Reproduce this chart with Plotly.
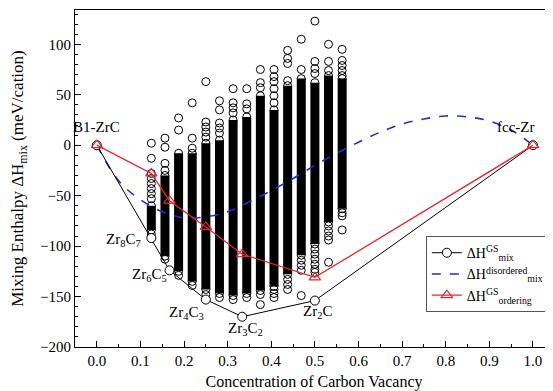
import plotly.graph_objects as go

# ---------------- data ----------------
col_x = [0.125, 0.15625, 0.1875, 0.21875, 0.25, 0.28125, 0.3125, 0.34375,
         0.375, 0.40625, 0.4375, 0.46875, 0.5, 0.53125, 0.5625]
dense_top = [-60, -30, -8, -8, 2, 5, 25, 28, 49, 35, 59, 66, 62, 69, 66]
dense_bot = [-84, -110, -125, -135, -143, -147, -149, -147, -144, -140, -128, -109, -98, -76, -63]
upper_pts = [
    [2, -13, -28, -33, -38, -43, -48, -53],
    [7, -2, -18, -25],
    [27, 15],
    [42, 7, -3],
    [63, 23, 18, 13, 8],
    [44, 35, 22, 17, 12],
    [56, 42, 37, 32],
    [56, 41, 36],
    [75, 62, 57],
    [75, 68, 63, 56, 49, 42],
    [94, 86, 81, 64],
    [105, 75],
    [123, 83, 76, 71],
    [100, 83, 74],
    [95, 84, 79, 74, 69],
]
lower_pts = [
    [-88, -92],
    [-113],
    [-129],
    [-139],
    [-148],
    [-151],
    [-153],
    [-151],
    [-148, -158],
    [-143, -147, -151],
    [-133, -138, -143],
    [-114, -119, -124, -149],
    [-103, -108, -113, -118, -123, -126],
    [-80, -85, -90, -94, -116],
    [-67, -70, -84],
]

hull_x = [0.0, 0.125, 0.16667, 0.25, 0.33333, 0.5, 1.0]
hull_y = [0, -92, -124, -153, -170, -154, 0]

order_x = [0.0, 0.125, 0.16667, 0.25, 0.33333, 0.5, 1.0]
order_y = [0, -28, -55, -81, -108, -131, 0]

dis_x = [0.0, 0.03, 0.06, 0.1, 0.15, 0.2, 0.25, 0.3, 0.35, 0.4, 0.45, 0.5,
         0.55, 0.6, 0.65, 0.7, 0.75, 0.8, 0.85, 0.9, 0.95, 1.0]
dis_y = [0, -23, -40, -54, -66, -72, -71, -66, -56, -45, -33, -20,
         -8, 3, 13, 21, 26, 29, 28, 24, 15, 0]

label_text = ["B1-ZrC", "fcc-Zr", "Zr<sub>8</sub>C<sub>7</sub>", "Zr<sub>6</sub>C<sub>5</sub>",
              "Zr<sub>4</sub>C<sub>3</sub>", "Zr<sub>3</sub>C<sub>2</sub>", "Zr<sub>2</sub>C"]
label_x = [0.0, 0.96, 0.062, 0.12, 0.206, 0.34, 0.507]
label_y = [18, 18, -94, -129, -166, -182, -165]

# ---------------- figure ----------------
FONT = "Liberation Serif, Times New Roman, serif"
fig = go.Figure()

# dense parts of each column (stacked circles appear solid)
bx, by = [], []
for x, t, b in zip(col_x, dense_top, dense_bot):
    bx += [x, x, None]
    by += [t, b, None]
fig.add_trace(go.Scatter(x=bx, y=by, mode="lines",
                         line=dict(color="black", width=9),
                         showlegend=False, hoverinfo="skip"))

# individual circles
px, py = [], []
for x, t, b, up, lo in zip(col_x, dense_top, dense_bot, upper_pts, lower_pts):
    for v in up + [t, b] + lo:
        px.append(x)
        py.append(v)
fig.add_trace(go.Scatter(x=px, y=py, mode="markers",
                         marker=dict(symbol="circle-open", size=8, color="black",
                                     line=dict(width=1, color="black")),
                         showlegend=False, hoverinfo="skip"))

# disordered curve
fig.add_trace(go.Scatter(x=dis_x, y=dis_y, mode="lines",
                         line=dict(color="#2a2ad0", width=1.6, dash="dash", shape="spline"),
                         name="ΔH<sup>disordered</sup><sub>mix</sub>"))

# GS hull
fig.add_trace(go.Scatter(x=hull_x, y=hull_y, mode="lines+markers",
                         line=dict(color="black", width=1),
                         marker=dict(symbol="circle", size=9, color="white",
                                     line=dict(width=1, color="black")),
                         name="ΔH<sup>GS</sup><sub>mix</sub>"))

# ordering
fig.add_trace(go.Scatter(x=order_x, y=order_y, mode="lines+markers",
                         line=dict(color="#e02830", width=1.3),
                         marker=dict(symbol="triangle-up-open", size=10, color="#e02830",
                                     line=dict(width=1.2, color="#e02830")),
                         name="ΔH<sup>GS</sup><sub>ordering</sub>"))

fig.data[2].legendrank = 2
fig.data[3].legendrank = 1
fig.data[4].legendrank = 3

for t, x, y in zip(label_text, label_x, label_y):
    fig.add_annotation(x=x, y=y, text=t, showarrow=False,
                       font=dict(family=FONT, size=15, color="black"))

# the page body has an 8px default margin, so the figure is 8px smaller
fig.update_layout(
    width=545, height=383,
    margin=dict(l=67, r=0, t=2, b=44, autoexpand=False),
    paper_bgcolor="white", plot_bgcolor="white",
    font=dict(family=FONT, size=15, color="black"),
    legend=dict(x=0.734, y=0.329, xanchor="left", yanchor="top",
                bordercolor="#555", borderwidth=1, bgcolor="white",
                font=dict(family=FONT, size=14), tracegroupgap=0,
                itemwidth=30),
    xaxis=dict(range=[-0.05, 1.0459], automargin=False,
               tickvals=[0, 0.1, 0.2, 0.3, 0.4, 0.5, 0.6, 0.7, 0.8, 0.9, 1.0],
               ticktext=["0.0", "0.1", "0.2", "0.3", "0.4", "0.5", "0.6", "0.7", "0.8", "0.9", "1.0"],
               tickfont=dict(family=FONT, size=15),
               ticks="inside", ticklen=6, tickcolor="black",
               minor=dict(dtick=0.05, ticks="inside", ticklen=3, tickcolor="black"),
               showline=True, linecolor="black", linewidth=1, mirror=True,
               showgrid=False, zeroline=False,
               title=dict(text="Concentration of Carbon Vacancy",
                          font=dict(family=FONT, size=16))),
    yaxis=dict(range=[-200, 134], automargin=False,
               tickvals=[-200, -150, -100, -50, 0, 50, 100],
               tickfont=dict(family=FONT, size=15),
               ticks="inside", ticklen=6, tickcolor="black",
               minor=dict(dtick=10, ticks="inside", ticklen=3, tickcolor="black"),
               showline=True, linecolor="black", linewidth=1, mirror=False,
               showgrid=False, zeroline=False,
               title=dict(text="Mixing Enthalpy ΔH<sub>mix</sub> (meV/cation)",
                          font=dict(family=FONT, size=17))),
)

fig.write_html("out.html")
